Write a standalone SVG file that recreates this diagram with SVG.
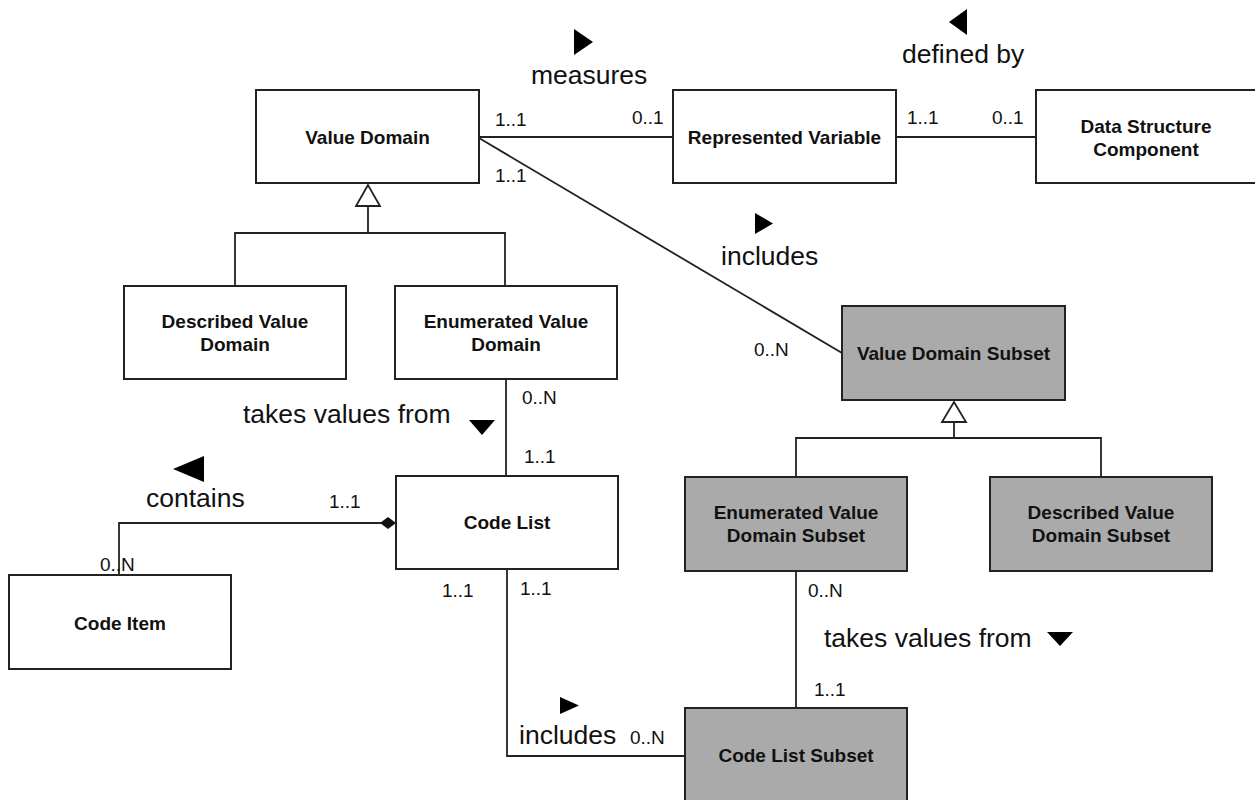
<svg xmlns="http://www.w3.org/2000/svg" width="1255" height="800" viewBox="0 0 1255 800">
<style>
.box{fill:#fff;stroke:#222;stroke-width:2}
.sub{fill:#aaaaaa;stroke:#222;stroke-width:2}
.nt{font-family:"Liberation Sans",Arial,sans-serif;font-weight:bold;font-size:19px;fill:#111;text-anchor:middle}
.m{font-family:"Liberation Sans",Arial,sans-serif;font-size:19px;fill:#111}
.lb{font-family:"Liberation Sans",Arial,sans-serif;font-size:26.5px;fill:#111}
.ln{fill:none;stroke:#222;stroke-width:1.8}
.tri{fill:#000}
.gen{fill:#fff;stroke:#222;stroke-width:1.8}
</style>
<rect width="1255" height="800" fill="#fff"/>
<g id="connectors">
<line class="ln" x1="479" y1="137" x2="673" y2="137"/>
<line class="ln" x1="896" y1="137" x2="1036" y2="137"/>
<line class="ln" x1="479" y1="138" x2="842" y2="353"/>
<polyline class="ln" points="368,206 368,233"/>
<polyline class="ln" points="235,286 235,233 505,233 505,286"/>
<polygon class="gen" points="368,185 356,206 380,206"/>
<polyline class="ln" points="954,422 954,438"/>
<polyline class="ln" points="796,477 796,438 1101,438 1101,477"/>
<polygon class="gen" points="954,402 942,422 966,422"/>
<line class="ln" x1="506" y1="379" x2="506" y2="476"/>
<polyline class="ln" points="381,523 119,523 119,575"/>
<polygon fill="#111" points="396,523 388,517 380,523 388,529"/>
<polyline class="ln" points="507,569 507,756 685,756"/>
<line class="ln" x1="796" y1="571" x2="796" y2="708"/>
</g>
<g id="labels">
<polygon class="tri" points="574,29 574,55 593,42"/>
<text class="lb" x="531" y="84">measures</text>
<polygon class="tri" points="967,9 967,35 949,22"/>
<text class="lb" x="902" y="63">defined by</text>
<polygon class="tri" points="755,213 755,234 773,223.5"/>
<text class="lb" x="721" y="265">includes</text>
<text class="lb" x="243" y="423">takes values from</text>
<polygon class="tri" points="469,420 495,420 482,435"/>
<polygon class="tri" points="204,456 204,482 173,469"/>
<text class="lb" x="146" y="507">contains</text>
<text class="lb" x="824" y="647">takes values from</text>
<polygon class="tri" points="1047,632 1073,632 1060,646"/>
<polygon class="tri" points="560,697 560,714 579,705.5"/>
<text class="lb" x="519" y="744">includes</text>
<text class="m" x="495" y="126">1..1</text>
<text class="m" x="495" y="182">1..1</text>
<text class="m" x="632" y="124">0..1</text>
<text class="m" x="907" y="124">1..1</text>
<text class="m" x="992" y="124">0..1</text>
<text class="m" x="754" y="356">0..N</text>
<text class="m" x="522" y="404">0..N</text>
<text class="m" x="524" y="463">1..1</text>
<text class="m" x="329" y="508">1..1</text>
<text class="m" x="100" y="571">0..N</text>
<text class="m" x="442" y="597">1..1</text>
<text class="m" x="520" y="595">1..1</text>
<text class="m" x="808" y="597">0..N</text>
<text class="m" x="814" y="696">1..1</text>
<text class="m" x="630" y="744">0..N</text>
</g>
<g id="value-domain"><rect class="box" x="256" y="90" width="223" height="93"/><text class="nt" x="367.5" y="144">Value Domain</text></g>
<g id="represented-variable"><rect class="box" x="673" y="90" width="223" height="93"/><text class="nt" x="784.5" y="144">Represented Variable</text></g>
<g id="data-structure-component"><rect class="box" x="1036" y="90" width="223" height="93"/><text class="nt" x="1146" y="133">Data Structure</text><text class="nt" x="1146" y="156">Component</text></g>
<g id="described-value-domain"><rect class="box" x="124" y="286" width="222" height="93"/><text class="nt" x="235" y="328">Described Value</text><text class="nt" x="235" y="351">Domain</text></g>
<g id="enumerated-value-domain"><rect class="box" x="395" y="286" width="222" height="93"/><text class="nt" x="506" y="328">Enumerated Value</text><text class="nt" x="506" y="351">Domain</text></g>
<g id="value-domain-subset"><rect class="sub" x="842" y="306" width="223" height="94"/><text class="nt" x="953.5" y="360">Value Domain Subset</text></g>
<g id="code-list"><rect class="box" x="396" y="476" width="222" height="93"/><text class="nt" x="507" y="529">Code List</text></g>
<g id="enumerated-value-domain-subset"><rect class="sub" x="685" y="477" width="222" height="94"/><text class="nt" x="796" y="519">Enumerated Value</text><text class="nt" x="796" y="542">Domain Subset</text></g>
<g id="described-value-domain-subset"><rect class="sub" x="990" y="477" width="222" height="94"/><text class="nt" x="1101" y="519">Described Value</text><text class="nt" x="1101" y="542">Domain Subset</text></g>
<g id="code-item"><rect class="box" x="9" y="575" width="222" height="94"/><text class="nt" x="120" y="630">Code Item</text></g>
<g id="code-list-subset"><rect class="sub" x="685" y="708" width="222" height="94"/><text class="nt" x="796" y="762">Code List Subset</text></g>
</svg>
